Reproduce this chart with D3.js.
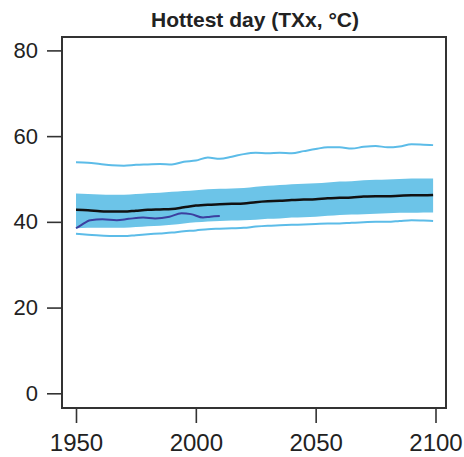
<!DOCTYPE html>
<html lang="en">
<head>
<meta charset="UTF-8">
<title>Hottest day (TXx)</title>
<style>
  body { margin: 0; background: #fff; font-family: 'Liberation Sans', Arial, sans-serif; }
  svg text { fill: #222; }
</style>
</head>
<body>
<svg id="chart" width="464" height="457"></svg>
<script src="https://cdn.jsdelivr.net/npm/d3@7/dist/d3.min.js"></script>
<script>
// model ensemble (5-yearly)
var years      = [1950,1955,1960,1965,1970,1975,1980,1985,1990,1995,2000,2005,2010,2015,2020,2025,2030,2035,2040,2045,2050,2055,2060,2065,2070,2075,2080,2085,2090,2095,2099];
var median     = [42.8,42.7,42.5,42.4,42.4,42.6,42.8,42.9,43.0,43.4,43.8,44.0,44.1,44.2,44.3,44.6,44.8,44.9,45.1,45.2,45.3,45.5,45.6,45.7,45.9,46.0,46.0,46.1,46.2,46.2,46.25];
var bandHigh   = [46.6,46.5,46.4,46.3,46.3,46.5,46.7,46.8,47.0,47.2,47.4,47.6,47.7,47.8,47.9,48.2,48.4,48.6,48.8,48.9,49.0,49.2,49.4,49.5,49.7,49.8,49.9,50.0,50.1,50.1,50.1];
var bandLow    = [38.5,38.6,38.6,38.6,38.6,38.8,39.0,39.1,39.3,39.6,39.9,40.1,40.2,40.3,40.4,40.5,40.7,40.8,41.0,41.1,41.2,41.4,41.6,41.7,41.8,41.9,42.0,42.1,42.1,42.2,42.2];
var maxLine    = [53.9,53.8,53.5,53.2,53.1,53.3,53.4,53.5,53.4,54.0,54.3,55.0,54.7,55.2,55.8,56.1,56.0,56.1,56.0,56.5,57.0,57.4,57.4,57.1,57.5,57.7,57.4,57.6,58.1,58.0,57.9];
var minLine    = [37.2,37.0,36.8,36.7,36.7,36.9,37.1,37.3,37.5,37.8,38.0,38.3,38.4,38.5,38.6,38.9,39.1,39.2,39.3,39.4,39.5,39.6,39.6,39.8,39.9,40.0,40.0,40.2,40.4,40.3,40.2];
// observations
var obsYears   = [1950,1952,1956,1961,1967,1972,1978,1983,1989,1994,1998,2003,2006,2010];
var obsValues  = [38.5,39.2,40.4,40.6,40.4,40.7,41.0,40.8,41.2,42.0,41.8,41.0,41.2,41.35];

var xTicks = [1950, 2000, 2050, 2100];
var yTicks = [0, 20, 40, 60, 80];
var title  = "Hottest day (TXx, \u00B0C)";

var svg = d3.select("#chart");
var box = { left: 62, right: 446, top: 37, bottom: 408 };

var x = d3.scaleLinear().domain([1950, 2100]).range([76, 435.5]);
var y = d3.scaleLinear().domain([0, 80]).range([393.3, 50.4]);

var model = years.map(function (yr, i) {
  return { year: yr, med: median[i], hi: bandHigh[i], lo: bandLow[i], mx: maxLine[i], mn: minLine[i] };
});
var obs = obsYears.map(function (yr, i) { return { year: yr, v: obsValues[i] }; });

// band
svg.append("path")
  .datum(model)
  .attr("fill", "#6cc4e8")
  .attr("d", d3.area().x(function (d) { return x(d.year); })
    .y0(function (d) { return y(d.lo); })
    .y1(function (d) { return y(d.hi); })
    .curve(d3.curveMonotoneX));

function drawLine(data, acc, color, width) {
  svg.append("path")
    .datum(data)
    .attr("fill", "none")
    .attr("stroke", color)
    .attr("stroke-width", width)
    .attr("stroke-linejoin", "round")
    .attr("d", d3.line().x(function (d) { return x(d.year); }).y(acc).curve(d3.curveMonotoneX));
}

drawLine(model, function (d) { return y(d.mx); }, "#5cbce8", 2);
drawLine(model, function (d) { return y(d.mn); }, "#5cbce8", 2);
drawLine(obs, function (d) { return y(d.v); }, "#3c3f9f", 2);
drawLine(model, function (d) { return y(d.med); }, "#111", 2.5);

// frame
svg.append("rect")
  .attr("x", box.left).attr("y", box.top)
  .attr("width", box.right - box.left).attr("height", box.bottom - box.top)
  .attr("fill", "none").attr("stroke", "#333").attr("stroke-width", 2);

// axes
var yAxis = svg.append("g")
  .attr("transform", "translate(" + box.left + ",0)")
  .call(d3.axisLeft(y).tickValues(yTicks).tickSize(15).tickPadding(9));
yAxis.select(".domain").remove();
yAxis.selectAll(".tick line").attr("stroke", "#333").attr("stroke-width", 1.6);
yAxis.selectAll(".tick text")
  .attr("font-family", "'Liberation Sans', Arial, sans-serif")
  .attr("font-size", 22).attr("fill", "#222");

var xAxis = svg.append("g")
  .attr("transform", "translate(0," + box.bottom + ")")
  .call(d3.axisBottom(x).tickValues(xTicks).tickFormat(d3.format("d")).tickSize(15).tickPadding(11));
xAxis.select(".domain").remove();
xAxis.selectAll(".tick line").attr("stroke", "#333").attr("stroke-width", 1.6);
xAxis.selectAll(".tick text")
  .attr("font-family", "'Liberation Sans', Arial, sans-serif")
  .attr("font-size", 24).attr("fill", "#222");

svg.append("text")
  .attr("x", (box.left + box.right) / 2 + 1)
  .attr("y", 27)
  .attr("text-anchor", "middle")
  .attr("font-weight", "bold")
  .attr("font-size", 21)
  .text(title);
</script>
</body>
</html>
